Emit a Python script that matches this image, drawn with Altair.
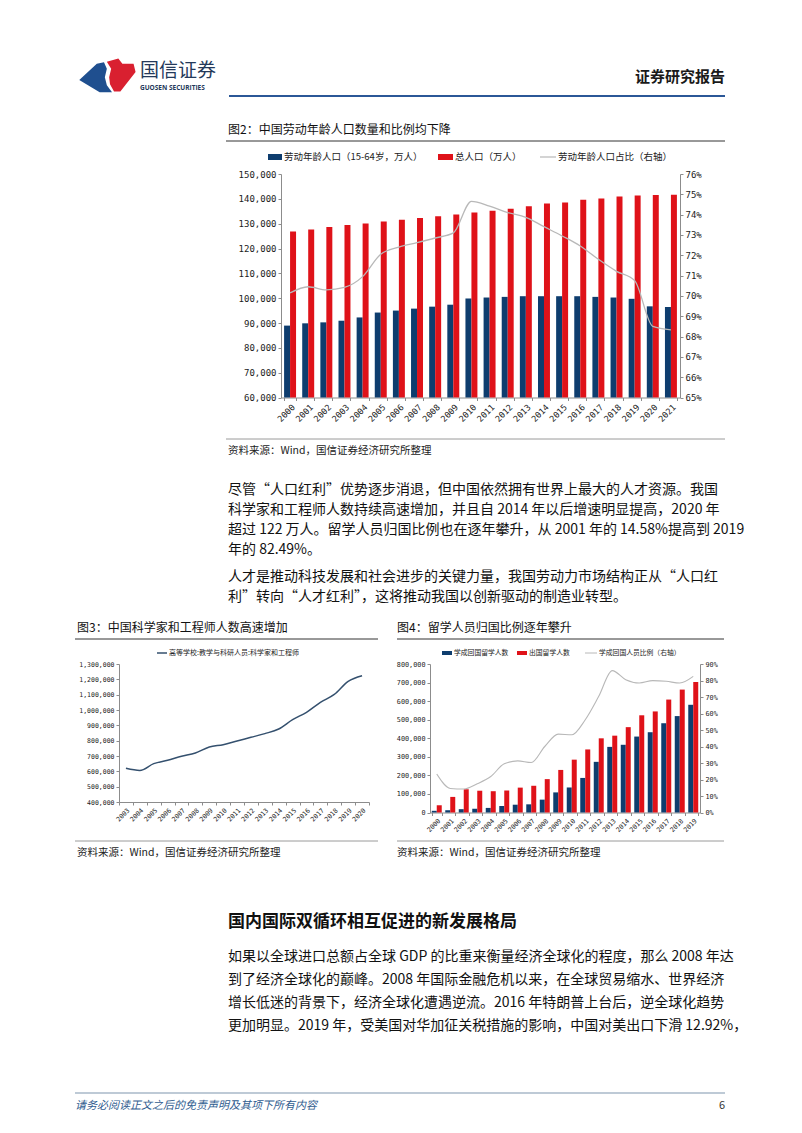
import altair as alt
import pandas as pd

W, H = 802, 1133
CJK = "Noto Sans CJK SC"
MONO = "DejaVu Sans Mono"
BLUE = "#0e3d6e"
RED = "#df1219"
GREY = "#b8b8b8"

# ---------------- data ----------------
years2 = [str(y) for y in range(2000, 2022)]
labor = [88950, 89870, 90260, 90920, 92240, 94210, 95000, 95790, 96580, 97370, 99870,
         100260, 100520, 100790, 100790, 100790, 100790, 100520, 100260, 99740, 96710, 96450]
total = [126800, 127700, 128650, 129450, 130100, 130900, 131600, 132300, 132950, 133650, 134450,
         135250, 136050, 137000, 138100, 138500, 139600, 140100, 140950, 141350, 141500, 141600]
ratio = [70.15, 70.45, 70.3, 70.42, 70.95, 72.05, 72.4, 72.62, 72.85, 73.1, 74.65,
         74.42, 74.1, 73.87, 73.41, 72.95, 72.46, 71.8, 71.21, 70.75, 68.5, 68.33]

years3 = [str(y) for y in range(2003, 2021)]
scientists = [620000, 606000, 650000, 672000, 698000, 720000, 759000, 774000, 798000, 822000,
              846000, 876000, 937000, 985000, 1050000, 1102000, 1187000, 1224000]

years4 = [str(y) for y in range(2000, 2020)]
returned = [9100, 12200, 17900, 20200, 24700, 35000, 42000, 44000, 69300, 108300,
            134800, 186200, 272900, 353500, 364800, 409100, 432500, 480900, 519400, 580300]
abroad = [39000, 84000, 125200, 117300, 114700, 118500, 134000, 144000, 179800, 229300,
          284700, 339700, 399600, 413900, 459800, 523700, 544500, 608400, 662100, 703500]
return_ratio = [23.3, 14.58, 14.2, 17.4, 21.8, 29.5, 31.3, 30.3, 40.0, 47.5,
                47.1, 56.2, 70.4, 86.0, 80.5, 78.5, 79.9, 79.5, 78.5, 82.49]

title2 = "图2：中国劳动年龄人口数量和比例均下降"
title3 = "图3：中国科学家和工程师人数高速增加"
title4 = "图4：留学人员归国比例逐年攀升"
source = "资料来源：Wind，国信证券经济研究所整理"
legend2 = ["劳动年龄人口（15-64岁，万人）", "总人口（万人）", "劳动年龄人口占比（右轴）"]
legend3 = ["高等学校:教学与科研人员:科学家和工程师"]
legend4 = ["学成回国留学人数", "出国留学人数", "学成回国人员比例（右轴）"]
para1 = ["尽管“人口红利”优势逐步消退，但中国依然拥有世界上最大的人才资源。我国",
         "科学家和工程师人数持续高速增加，并且自 2014 年以后增速明显提高，2020 年",
         "超过 122 万人。留学人员归国比例也在逐年攀升，从 2001 年的 14.58%提高到 2019",
         "年的 82.49%。"]
para2 = ["人才是推动科技发展和社会进步的关键力量，我国劳动力市场结构正从“人口红",
         "利”转向“人才红利”，这将推动我国以创新驱动的制造业转型。"]
heading = "国内国际双循环相互促进的新发展格局"
para3 = ["如果以全球进口总额占全球 GDP 的比重来衡量经济全球化的程度，那么 2008 年达",
         "到了经济全球化的巅峰。2008 年国际金融危机以来，在全球贸易缩水、世界经济",
         "增长低迷的背景下，经济全球化遭遇逆流。2016 年特朗普上台后，逆全球化趋势",
         "更加明显。2019 年，受美国对华加征关税措施的影响，中国对美出口下滑 12.92%，"]
header_right = "证券研究报告"
brand_cn = "国信证券"
brand_en = "GUOSEN SECURITIES"
footer = "请务必阅读正文之后的免责声明及其项下所有内容"
page_no = "6"

EMPTY = alt.Data(values=[{}])


def T(s, x, y, size, color="#111", weight="normal", align="left", font=CJK, style="normal"):
    return alt.Chart(EMPTY).mark_text(
        text=s, fontSize=size, color=color, fontWeight=weight, align=align,
        font=font, fontStyle=style, baseline="middle"
    ).encode(x=alt.value(x), y=alt.value(y))


def R(x1, x2, y, color, w=1.0):
    return alt.Chart(EMPTY).mark_rule(color=color, strokeWidth=w).encode(
        x=alt.value(x1), x2=alt.value(x2), y=alt.value(y))


def BOX(x1, x2, y1, y2, color):
    return alt.Chart(EMPTY).mark_rect(color=color).encode(
        x=alt.value(x1), x2=alt.value(x2), y=alt.value(y1), y2=alt.value(y2))


def yaxis(orient, xpos, values, size, fmt=None, expr=None):
    kw = dict(orient=orient, offset=(-xpos if orient == "left" else xpos - W), values=values,
              labelFont=MONO, labelFontSize=size, labelColor="#222", domainColor="#8c8c8c",
              tickColor="#8c8c8c", tickSize=3, labelPadding=2, grid=False, title=None)
    if fmt:
        kw["format"] = fmt
    if expr:
        kw["labelExpr"] = expr
    return alt.Axis(**kw)


def xaxis(ypos, size):
    return alt.Axis(orient="bottom", offset=ypos - H, labelAngle=-45, labelFont=MONO,
                    labelFontSize=size, labelColor="#222", domainColor="#8c8c8c",
                    tickColor="#8c8c8c", tickSize=3, tickBand="extent", labelOverlap=False,
                    labelPadding=2, grid=False, title=None)


layers = []

# ---------------- header ----------------
blue_logo = ("M -1 0.14 L -0.39 -0.43 L -0.14 -0.48 L -0.04 -0.25 L -0.11 0.04 "
             "L -0.04 0.32 L 0.14 0.57 L -0.29 0.57 Z")
red_logo = ("M -0.04 -0.5 L 0.36 -0.61 L 0.5 -0.43 L 0.89 -0.43 L 0.96 -0.14 L 0.43 0.54 "
            "L 0.21 0.54 L 0.07 0.29 L 0.04 0.04 L 0.11 -0.25 Z")
layers.append(alt.Chart(EMPTY).mark_point(shape=blue_logo, size=3300, filled=True,
                                          color="#1f4f8f", opacity=1)
              .encode(x=alt.value(108), y=alt.value(76)))
layers.append(alt.Chart(EMPTY).mark_point(shape=red_logo, size=3300, filled=True,
                                          color="#d92030", opacity=1)
              .encode(x=alt.value(108), y=alt.value(76)))
layers.append(T(brand_cn, 140, 71, 19, color="#24395a"))
layers.append(T(brand_en, 140, 88, 6.5, color="#24395a", weight="bold", font="Open Sans"))
layers.append(T(header_right, 725, 77, 15, color="#1a1a1a", weight="bold", align="right"))
layers.append(R(229, 725, 96, "#2b5797", 2))

# ---------------- figure 2 ----------------
layers.append(T(title2, 228, 130, 12))
layers.append(R(226, 725, 141, "#333333", 1))
layers.append(BOX(268, 282, 154, 160, BLUE))
layers.append(T(legend2[0], 284, 157, 9.5, color="#222"))
layers.append(BOX(438, 453, 154, 160, RED))
layers.append(T(legend2[1], 455, 157, 9.5, color="#222"))
layers.append(R(540, 556, 157, GREY, 1.2))
layers.append(T(legend2[2], 558, 157, 9.5, color="#222"))

df2 = pd.DataFrame({"year": years2, "labor": labor, "total": total, "ratio": ratio})
X2 = (281, 680)
Y2 = (397.5, 174)
pi2 = 0.34
step2 = (X2[1] - X2[0]) / len(years2)
off2 = step2 * (1 - pi2) / 4
x2enc = alt.X("year:N", scale=alt.Scale(range=list(X2), paddingInner=pi2, paddingOuter=pi2 / 2),
              axis=xaxis(Y2[0], 8.5), title=None)
ys2 = alt.Scale(domain=[60000, 150000], range=list(Y2), nice=False, zero=False)
b2 = alt.Chart(df2)
bar_lab = b2.mark_bar(color=BLUE, width={"band": 0.5}, xOffset=-off2).encode(
    x=x2enc,
    y=alt.Y("labor:Q", scale=ys2, axis=yaxis("left", X2[0], list(range(60000, 150001, 10000)), 9, fmt=",d")),
    y2=alt.datum(60000))
bar_tot = b2.mark_bar(color=RED, width={"band": 0.5}, xOffset=off2).encode(
    x=x2enc, y=alt.Y("total:Q", scale=ys2), y2=alt.datum(60000))
line2 = b2.mark_line(color=GREY, strokeWidth=1.3, interpolate="monotone").encode(
    x=x2enc,
    y=alt.Y("ratio:Q", scale=alt.Scale(domain=[65, 76], range=list(Y2), nice=False, zero=False),
            axis=yaxis("right", X2[1], list(range(65, 77)), 9, expr="datum.value + '%'")))
fig2 = alt.layer(alt.layer(bar_lab, bar_tot), line2).resolve_scale(y="independent")
layers.append(fig2)
layers.append(R(226, 725, 439, "#9a9a9a", 1))
layers.append(T(source, 228, 451, 10.5, color="#222"))

# ---------------- paragraphs ----------------
for i, s in enumerate(para1):
    layers.append(T(s, 228, 490 + 20 * i, 14, color="#111"))
for i, s in enumerate(para2):
    layers.append(T(s, 228, 577 + 20 * i, 14, color="#111"))

# ---------------- figure 3 ----------------
layers.append(T(title3, 77, 628, 12))
layers.append(R(75, 378, 639, "#333333", 1))
layers.append(R(157, 167, 653, "#34506e", 1.5))
layers.append(T(legend3[0], 169, 653, 7, color="#222"))
df3 = pd.DataFrame({"year": years3, "value": scientists})
X3 = (119, 369)
Y3 = (802, 664)
line3 = alt.Chart(df3).mark_line(color="#34506e", strokeWidth=1.5, interpolate="monotone").encode(
    x=alt.X("year:N", scale=alt.Scale(type="band", range=list(X3), paddingInner=0, paddingOuter=0),
            axis=xaxis(Y3[0], 6.5), title=None),
    y=alt.Y("value:Q", scale=alt.Scale(domain=[400000, 1300000], range=list(Y3), nice=False, zero=False),
            axis=yaxis("left", X3[0], list(range(400000, 1300001, 100000)), 6.5, fmt=",d")))
layers.append(line3)
layers.append(R(75, 378, 841, "#9a9a9a", 1))
layers.append(T(source, 77, 853, 10.5, color="#222"))

# ---------------- figure 4 ----------------
layers.append(T(title4, 397, 628, 12))
layers.append(R(397, 724, 639, "#333333", 1))
layers.append(BOX(442, 452, 651, 655, BLUE))
layers.append(T(legend4[0], 454, 653, 6.8, color="#222"))
layers.append(BOX(517, 527, 651, 655, RED))
layers.append(T(legend4[1], 529, 653, 6.8, color="#222"))
layers.append(R(585, 597, 653, GREY, 1))
layers.append(T(legend4[2], 599, 653, 6.8, color="#222"))

df4 = pd.DataFrame({"year": years4, "returned": returned, "abroad": abroad, "ratio": return_ratio})
X4 = (430, 700)
Y4 = (812.5, 664)
pi4 = 0.26
step4 = (X4[1] - X4[0]) / len(years4)
off4 = step4 * (1 - pi4) / 4
x4enc = alt.X("year:N", scale=alt.Scale(range=list(X4), paddingInner=pi4, paddingOuter=pi4 / 2),
              axis=xaxis(Y4[0], 6.5), title=None)
ys4 = alt.Scale(domain=[0, 800000], range=list(Y4), nice=False)
b4 = alt.Chart(df4)
bar_ret = b4.mark_bar(color=BLUE, width={"band": 0.5}, xOffset=-off4).encode(
    x=x4enc,
    y=alt.Y("returned:Q", scale=ys4, axis=yaxis("left", X4[0], list(range(0, 800001, 100000)), 6.8, fmt=",d")),
    y2=alt.datum(0))
bar_abr = b4.mark_bar(color=RED, width={"band": 0.5}, xOffset=off4).encode(
    x=x4enc, y=alt.Y("abroad:Q", scale=ys4), y2=alt.datum(0))
line4 = b4.mark_line(color=GREY, strokeWidth=1.1, interpolate="monotone").encode(
    x=x4enc,
    y=alt.Y("ratio:Q", scale=alt.Scale(domain=[0, 90], range=list(Y4), nice=False),
            axis=yaxis("right", X4[1], list(range(0, 91, 10)), 6.8, expr="datum.value + '%'")))
fig4 = alt.layer(alt.layer(bar_ret, bar_abr), line4).resolve_scale(y="independent")
layers.append(fig4)
layers.append(R(397, 724, 841, "#9a9a9a", 1))
layers.append(T(source, 397, 853, 10.5, color="#222"))

# ---------------- section 3 ----------------
layers.append(T(heading, 228, 922, 17, color="#111", weight="bold"))
for i, s in enumerate(para3):
    layers.append(T(s, 228, 957 + 23 * i, 14, color="#111"))

# ---------------- footer ----------------
layers.append(R(75, 725, 1093, "#a9b8c9", 1.5))
layers.append(T(footer, 75, 1106, 11, color="#2f5c8f", style="italic"))
layers.append(T(page_no, 725, 1106, 11, color="#333", align="right"))

chart = (
    alt.layer(*layers)
    .resolve_scale(x="independent", y="independent")
    .properties(width=W, height=H, autosize="none", padding=0, background="white")
    .configure_view(strokeWidth=0)
)

chart.save("out.html", embed_options={"renderer": "svg", "actions": False})
